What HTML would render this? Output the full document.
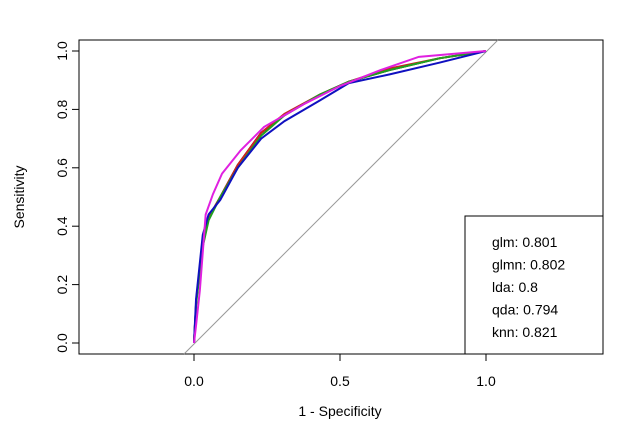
<!DOCTYPE html>
<html><head><meta charset="utf-8"><style>
body{margin:0;background:#fff;}
svg{display:block;font-family:"Liberation Sans",Arial,sans-serif;}
</style></head><body>
<svg id="chart" width="642" height="433" viewBox="0 0 642 433">
<rect x="79" y="40" width="524" height="314" fill="none" stroke="#000" stroke-width="1"/>
<g id="axes"></g>
<g id="curves"></g>
<g>
<rect x="465" y="216" width="138" height="138" fill="#fff" stroke="#000"/>
<g id="legend-items" font-size="13"></g>
</g>
<text x="340" y="416" font-size="14" text-anchor="middle">1 - Specificity</text>
<text x="0" y="0" font-size="14" text-anchor="middle" transform="translate(24,197) rotate(-90)">Sensitivity</text>
</svg>
<script>
const xTicks=[0,0.5,1];
const xTickLabels=["0.0","0.5","1.0"];
const yTicks=[0,0.2,0.4,0.6,0.8,1];
const yTickLabels=["0.0","0.2","0.4","0.6","0.8","1.0"];
const modelNames=["glm","glmn","lda","qda","knn"];
const aucValues=["0.801","0.802","0.8","0.794","0.821"];
const modelColors=["#000000","#d02020","#20a020","#1010c0","#e020e0"];
const fprGlm=[0,0.008,0.03,0.05,0.09,0.15,0.23,0.31,0.43,0.53,0.67,0.84,1];
const tprGlm=[0,0.15,0.35,0.43,0.5,0.61,0.72,0.78,0.85,0.895,0.935,0.975,1];
const fprGlmn=[0,0.008,0.03,0.05,0.09,0.15,0.23,0.31,0.43,0.53,0.67,0.84,1];
const tprGlmn=[0,0.15,0.34,0.43,0.5,0.61,0.72,0.785,0.85,0.895,0.94,0.975,1];
const fprLda=[0,0.008,0.03,0.05,0.09,0.15,0.23,0.31,0.43,0.53,0.67,0.84,1];
const tprLda=[0,0.14,0.33,0.42,0.5,0.6,0.71,0.78,0.85,0.895,0.935,0.975,1];
const fprQda=[0,0.007,0.03,0.05,0.09,0.15,0.23,0.31,0.43,0.53,0.67,0.84,1];
const tprQda=[0,0.15,0.37,0.44,0.49,0.6,0.7,0.76,0.83,0.89,0.92,0.96,1];
const fprKnn=[0,0.007,0.02,0.04,0.065,0.096,0.16,0.24,0.31,0.38,0.5,0.64,0.77,1];
const tprKnn=[0,0.06,0.18,0.44,0.51,0.58,0.66,0.74,0.78,0.82,0.88,0.935,0.98,1];
const series=[[fprGlm,tprGlm],[fprGlmn,tprGlmn],[fprLda,tprLda],[fprQda,tprQda],[fprKnn,tprKnn]];
const NS="http://www.w3.org/2000/svg";
const xs=v=>194+v*292, ys=v=>343-v*292;
const ax=document.getElementById('axes');
function mk(t,a,p){const e=document.createElementNS(NS,t);for(const k in a)e.setAttribute(k,a[k]);p.appendChild(e);return e;}
let l=mk('line',{x1:xs(0),x2:xs(1),y1:354,y2:354,stroke:'#000'},ax);


xTicks.forEach((v,i)=>{
 const t=mk('line',{x1:xs(v),x2:xs(v),y1:354,y2:361,stroke:'#000'},ax);
 
 
 const s=mk('text',{x:xs(v),y:386,'font-size':14,'text-anchor':'middle'},ax);s.textContent=xTickLabels[i];
 
 
});
l=mk('line',{x1:79,x2:79,y1:ys(0),y2:ys(1),stroke:'#000'},ax);


yTicks.forEach((v,i)=>{
 const t=mk('line',{x1:72,x2:79,y1:ys(v),y2:ys(v),stroke:'#000'},ax);
 
 
 const s=mk('text',{x:0,y:0,'font-size':14,'text-anchor':'middle',transform:`translate(67,${ys(v)}) rotate(-90)`},ax);s.textContent=yTickLabels[i];
 
 
});
const cg=document.getElementById('curves');
const d=mk('line',{x1:xs(-0.0342),y1:354,x2:xs(1.041),y2:40,stroke:'#999','stroke-width':1},cg);


series.forEach((s,i)=>{
 const pts=s[0].map((x,j)=>xs(x)+','+ys(s[1][j])).join(' ');
 const p=mk('polyline',{points:pts,fill:'none',stroke:modelColors[i],'stroke-width':2},cg);
 
 
});
const lg=document.getElementById('legend-items');
modelNames.forEach((n,i)=>{
 const t=mk('text',{x:492,y:247+i*22.5,'font-size':14},lg);t.textContent=n+': '+aucValues[i];
 
 
});
</script>
</body></html>
